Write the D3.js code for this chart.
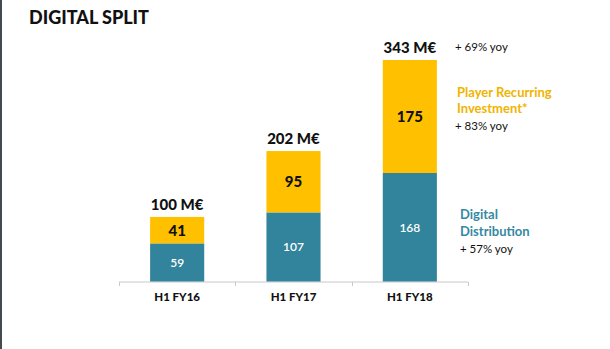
<!DOCTYPE html>
<html><head><meta charset="utf-8">
<script src="https://cdn.jsdelivr.net/npm/d3@7"></script>
<style>
html,body{margin:0;padding:0;background:#fff;}
svg{display:block;font-family:Lato,"Open Sans",sans-serif;}
</style></head>
<body><svg id="c" width="610" height="349"></svg>
<script>
const categories = ["H1 FY16","H1 FY17","H1 FY18"];
const distribution = [59,107,168];
const recurring = [41,95,175];
const totals = ["100 M€","202 M€","343 M€"];

const W=610,H=349;
const svg=d3.select("#c");
svg.append("rect").attr("x",0).attr("y",0).attr("width",2).attr("height",H).attr("fill","#454a4e");

svg.append("text").attr("x",29).attr("y",24).attr("font-size",18).attr("font-weight",900)
  .attr("fill","#111").text("DIGITAL SPLIT");

const x=d3.scaleBand().domain(categories).range([119,468]).paddingInner(0.535).paddingOuter(0.2675);
const y=d3.scaleLinear().domain([0,343]).range([281.5,60]);

const teal="#31849b", gold="#ffc000";

// axis
const ax=svg.append("g");
ax.append("line").attr("x1",119).attr("x2",468).attr("y1",282).attr("y2",282).attr("stroke","#c8c8c8").attr("stroke-width",1);
const edges=[119].concat(categories.map(c=>x(c)+x.bandwidth()+x.step()*x.paddingInner()/2));
edges[edges.length-1]=468;
ax.selectAll("line.t").data(edges).join("line").attr("class","t")
  .attr("x1",d=>Math.round(d)+0.5).attr("x2",d=>Math.round(d)+0.5).attr("y1",282).attr("y2",286)
  .attr("stroke","#c8c8c8");
ax.selectAll("text.cat").data(categories).join("text").attr("class","cat")
  .attr("x",d=>x(d)+x.bandwidth()/2).attr("y",301).attr("text-anchor","middle")
  .attr("font-size",11.5).attr("font-weight",900).attr("fill","#111").text(d=>d);

const idx=d3.range(categories.length);
svg.selectAll("rect.dist").data(idx).join("rect").attr("class","dist")
  .attr("x",i=>x(categories[i])).attr("width",x.bandwidth())
  .attr("y",i=>y(distribution[i])).attr("height",i=>y(0)-y(distribution[i])).attr("fill",teal);
svg.selectAll("rect.rec").data(idx).join("rect").attr("class","rec")
  .attr("x",i=>x(categories[i])).attr("width",x.bandwidth())
  .attr("y",i=>y(distribution[i]+recurring[i])).attr("height",i=>y(distribution[i])-y(distribution[i]+recurring[i])).attr("fill",gold);

svg.selectAll("text.dv").data(idx).join("text").attr("class","dv")
  .attr("x",i=>x(categories[i])+x.bandwidth()/2).attr("y",i=>(y(0)+y(distribution[i]))/2+4.5)
  .attr("text-anchor","middle").attr("font-size",12).attr("font-weight",600).attr("fill","#fff").text(i=>distribution[i]);
svg.selectAll("text.rv").data(idx).join("text").attr("class","rv")
  .attr("x",i=>x(categories[i])+x.bandwidth()/2).attr("y",i=>(y(distribution[i])+y(distribution[i]+recurring[i]))/2+5.5)
  .attr("text-anchor","middle").attr("font-size",15).attr("font-weight",900).attr("fill","#111").text(i=>recurring[i]);
svg.selectAll("text.tot").data(idx).join("text").attr("class","tot")
  .attr("x",i=>x(categories[i])+x.bandwidth()/2).attr("y",i=>y(distribution[i]+recurring[i])-7)
  .attr("text-anchor","middle").attr("font-size",15).attr("font-weight",900).attr("fill","#111").text(i=>totals[i]);

const ann=[
 {x:455,y:51,t:"+ 69% yoy",c:"#111",s:11.5,w:400},
 {x:457,y:97,t:"Player Recurring",c:"#f0b400",s:13,w:700},
 {x:457,y:113,t:"Investment*",c:"#f0b400",s:13,w:700},
 {x:455,y:130,t:"+ 83% yoy",c:"#111",s:11.5,w:400},
 {x:460,y:219,t:"Digital",c:"#3589a3",s:13,w:700},
 {x:460,y:236,t:"Distribution",c:"#3589a3",s:13,w:700},
 {x:460,y:253,t:"+ 57% yoy",c:"#111",s:11.5,w:400}
];
svg.selectAll("text.ann").data(ann).join("text").attr("class","ann")
  .attr("x",d=>d.x).attr("y",d=>d.y).attr("font-size",d=>d.s).attr("font-weight",d=>d.w)
  .attr("fill",d=>d.c).text(d=>d.t);
</script></body></html>
